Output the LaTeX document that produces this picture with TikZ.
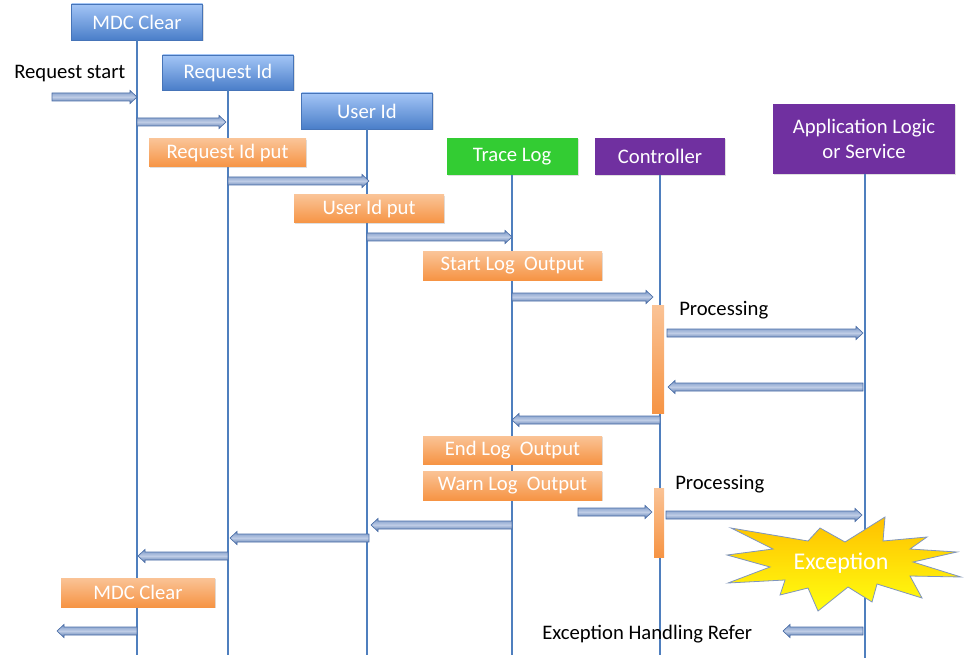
\documentclass[tikz,border=0pt]{standalone}
\usepackage{fontspec}
\setmainfont{Carlito}
\usetikzlibrary{calc,shadows}
\definecolor{hdrtop}{HTML}{A3C5F6}
\definecolor{hdrbot}{HTML}{4A7EC9}
\definecolor{hdrline}{HTML}{4674B8}
\definecolor{ortop}{HTML}{FAC396}
\definecolor{orbot}{HTML}{F69444}
\definecolor{trgreen}{HTML}{33CC33}
\definecolor{ctpurple}{HTML}{7030A0}
\definecolor{lifeblue}{HTML}{4F7FBE}
\definecolor{artop}{HTML}{7895C6}
\definecolor{armid}{HTML}{BFCDE6}
\definecolor{arbot}{HTML}{5173AB}
\definecolor{arline}{HTML}{4A6DA6}
\definecolor{startop}{HTML}{FFC000}
\definecolor{starbot}{HTML}{FFFF10}
\definecolor{starline}{HTML}{7F95BE}
\newcommand\mylbl{\fontsize{15.5}{19}\selectfont}
\newcommand\blockarrow[2]{%
  \path[barrow] let \p1=(#1), \p2=(#2), \n1={ifthenelse(\x2>\x1,1,-1)} in
    (\x1,\y1+3pt) -- (\x2-\n1*5.25pt,\y1+3pt) -- (\x2-\n1*5.25pt,\y1+4.9pt) --
    (\x2,\y1) -- (\x2-\n1*5.25pt,\y1-4.9pt) -- (\x2-\n1*5.25pt,\y1-3pt) --
    (\x1,\y1-3pt) -- cycle;}
\tikzset{
  shd/.style={drop shadow={shadow xshift=1pt,shadow yshift=-1pt,opacity=0.25}},
  hdr/.style={shd,draw=hdrline,line width=0.6pt,top color=hdrtop,bottom color=hdrbot,
    text=white,font=\mylbl,inner sep=0pt},
  solidhdr/.style={shd,text=white,font=\mylbl,inner sep=0pt,align=center},
  note/.style={shd,top color=ortop,bottom color=orbot,text=white,font=\mylbl,inner sep=0pt},
  actbar/.style={top color=ortop,bottom color=orbot},
  life/.style={draw=lifeblue,line width=1.5pt},
  barrow/.style={draw=arline,line width=0.5pt,top color=artop,bottom color=arbot,middle color=armid},
  plain/.style={font=\mylbl,text=black,inner sep=0pt,anchor=west},
}
\begin{document}
\begin{tikzpicture}[x=0.75pt,y=-0.75pt]
\useasboundingbox (0,0) rectangle (969,666);
% header boxes
\node[hdr,minimum width=98.25pt,minimum height=27pt] (mdc) at (137,22) {MDC Clear};
\node[hdr,minimum width=98.25pt,minimum height=26.25pt] (rid) at (228,72.5) {Request Id};
\node[hdr,minimum width=98.25pt,minimum height=27pt] (uid) at (367,111) {User Id};
\node[solidhdr,fill=trgreen,minimum width=98.25pt,minimum height=27.75pt] (trace) at (512,156.5) {Trace Log};
\node[solidhdr,fill=ctpurple,minimum width=97.5pt,minimum height=27.75pt] (ctrl) at (660,156.5) {Controller};
\node[solidhdr,fill=ctpurple,minimum width=136.5pt,minimum height=52.5pt] (app) at (864,139) {Application Logic\\or Service};
% lifeline ends
\coordinate (mdcE) at (137,655);
\coordinate (ridE) at (228,655);
\coordinate (uidE) at (367,655);
\coordinate (traceE) at (512,655);
\coordinate (ctrlE) at (660,655);
\coordinate (appE) at (865,658);
\draw[life] (mdc.south) -- (mdcE);
\draw[life] (rid.south) -- (ridE);
\draw[life] (uid.south) -- (uidE);
\draw[life] (trace.south) -- (traceE);
\draw[life] (ctrl.south) -- (ctrlE);
\draw[life] (app.south -| appE) -- (appE);
% notes
\node[note,minimum width=117.75pt,minimum height=21pt] (ridput) at (227.5,153) {Request Id put};
\node[note,minimum width=112.5pt,minimum height=21pt] (uidput) at (369,209) {User Id put};
\node[note,minimum width=134.25pt,minimum height=21pt] (startlog) at (512.5,266) {Start Log\ \ Output};
\node[note,minimum width=134.25pt,minimum height=21pt] (endlog) at (512.5,450) {End Log\ \ Output};
\node[note,minimum width=134.25pt,minimum height=21.75pt] (warnlog) at (512.5,485.5) {Warn Log\ \ Output};
\node[note,minimum width=115.5pt,minimum height=21.75pt] (mdcclr) at (138,592.5) {MDC Clear};
% activation bars
\path[actbar] (652,305) rectangle (664,413);
\path[actbar] (654,488) rectangle (664,557);
% labels
\node[plain] (reqstart) at (14,74) {Request start};
\node[plain] (proc1) at (679,310) {Processing};
\node[plain] (proc2) at (675,484) {Processing};
\node[plain] (exref) at (542,634) {Exception Handling Refer};
% arrow end points
\coordinate (a1s) at (52,97);   \coordinate (a1e) at (137,97);
\coordinate (a2s) at (137,122); \coordinate (a2e) at (226,122);
\coordinate (a3s) at (228,181); \coordinate (a3e) at (369,181);
\coordinate (a4s) at (367,237); \coordinate (a4e) at (512,237);
\coordinate (a5s) at (512,297); \coordinate (a5e) at (653,297);
\coordinate (a6s) at (667,333); \coordinate (a6e) at (863,333);
\coordinate (a7s) at (863,387); \coordinate (a7e) at (668,387);
\coordinate (a8s) at (660,420); \coordinate (a8e) at (512,420);
\coordinate (a9s) at (578,512); \coordinate (a9e) at (652,512);
\coordinate (a10s) at (666,515); \coordinate (a10e) at (862,515);
\coordinate (a11s) at (512,525); \coordinate (a11e) at (371,525);
\coordinate (a12s) at (369,538); \coordinate (a12e) at (230,538);
\coordinate (a13s) at (228,556); \coordinate (a13e) at (138,556);
\coordinate (a14s) at (137,631); \coordinate (a14e) at (57,631);
\coordinate (a15s) at (863,631); \coordinate (a15e) at (783,631);
\blockarrow{a1s}{a1e}
\blockarrow{a2s}{a2e}
\blockarrow{a3s}{a3e}
\blockarrow{a4s}{a4e}
\blockarrow{a5s}{a5e}
\blockarrow{a6s}{a6e}
\blockarrow{a7s}{a7e}
\blockarrow{a8s}{a8e}
\blockarrow{a9s}{a9e}
\blockarrow{a10s}{a10e}
\blockarrow{a11s}{a11e}
\blockarrow{a12s}{a12e}
\blockarrow{a13s}{a13e}
\blockarrow{a14s}{a14e}
\blockarrow{a15s}{a15e}
% exception starburst
\path[draw=starline,line width=0.6pt,top color=startop,bottom color=starbot]
  (731,528) -- (808,541) -- (820,528) -- (845,542) -- (885,517) -- (883,541) --
  (927,537) -- (910,549) -- (957,552) -- (913,562) -- (961,577) -- (910,576) --
  (922,598) -- (877,584) -- (872,602) -- (848,587) -- (818,611) -- (808,588) --
  (780,595) -- (785,580) -- (728,583) -- (770,567) -- (727,555) -- (773,549) -- cycle;
\node[text=white,font=\fontsize{18}{21}\selectfont,inner sep=0pt] (exc) at (841,563) {Exception};
\end{tikzpicture}
\end{document}
